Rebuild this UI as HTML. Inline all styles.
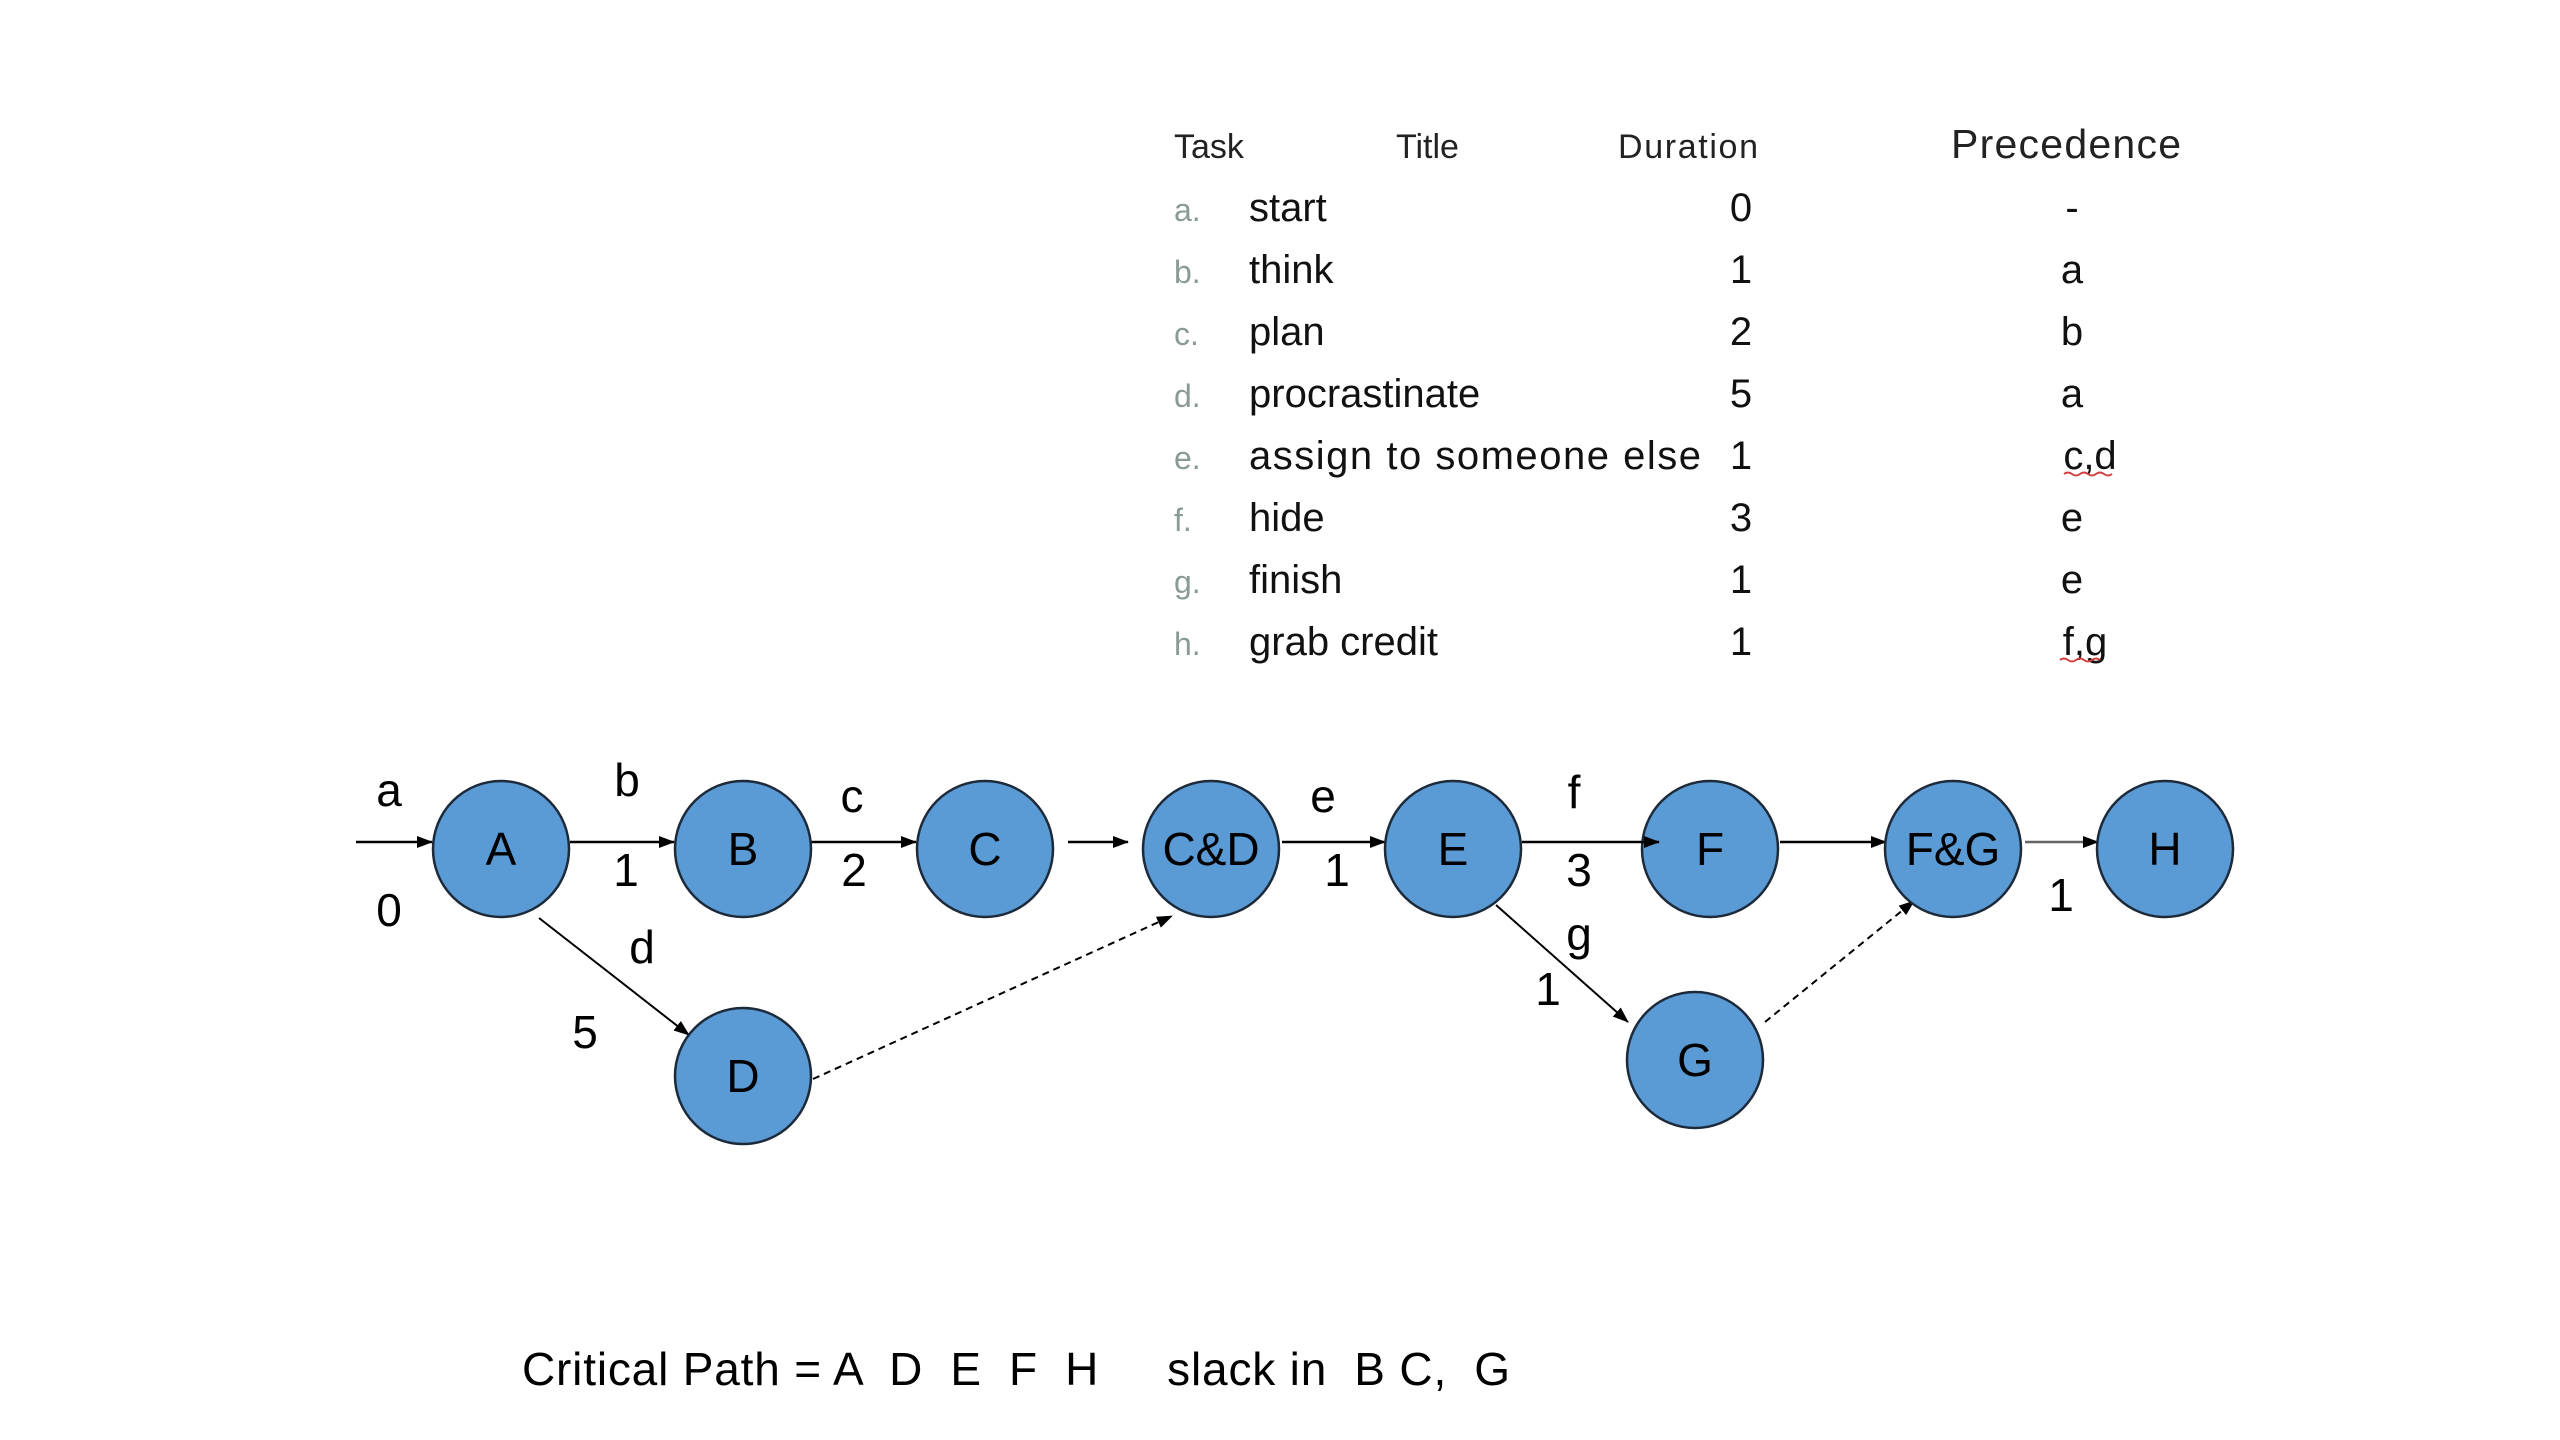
<!DOCTYPE html>
<html><head><meta charset="utf-8"><style>
html,body{margin:0;padding:0;background:#fff;}
svg{display:block;font-family:"Liberation Sans",Arial,sans-serif;}
</style></head><body>
<svg width="2560" height="1440" viewBox="0 0 2560 1440" xmlns="http://www.w3.org/2000/svg">
<defs>
<marker id="ar2" markerWidth="16" markerHeight="12" refX="15" refY="6" orient="auto" markerUnits="userSpaceOnUse" viewBox="0 0 16 12">
<path d="M0,0 L16,6 L0,12 z" fill="#000"/>
</marker>
</defs>
<rect width="2560" height="1440" fill="#fff"/>

<!-- table -->
<g fill="#222">
<text x="1174" y="158" font-size="34">Task</text>
<text x="1396" y="158" font-size="34">Title</text>
<text x="1618" y="158" font-size="34" textLength="140">Duration</text>
<text x="1951" y="158" font-size="41" textLength="230">Precedence</text>
</g>
<g font-size="40">
<g fill="#8a9a94" font-size="32">
<text x="1174" y="221">a.</text>
<text x="1174" y="283">b.</text>
<text x="1174" y="345">c.</text>
<text x="1174" y="407">d.</text>
<text x="1174" y="469">e.</text>
<text x="1174" y="531">f.</text>
<text x="1174" y="593">g.</text>
<text x="1174" y="655">h.</text>
</g>
<g fill="#111">
<text x="1249" y="221">start</text>
<text x="1249" y="283">think</text>
<text x="1249" y="345">plan</text>
<text x="1249" y="407">procrastinate</text>
<text x="1249" y="469" textLength="452">assign to someone else</text>
<text x="1249" y="531">hide</text>
<text x="1249" y="593">finish</text>
<text x="1249" y="655">grab credit</text>
</g>
<g fill="#111" text-anchor="middle">
<text x="1741" y="221">0</text>
<text x="1741" y="283">1</text>
<text x="1741" y="345">2</text>
<text x="1741" y="407">5</text>
<text x="1741" y="469">1</text>
<text x="1741" y="531">3</text>
<text x="1741" y="593">1</text>
<text x="1741" y="655">1</text>
<text x="2072" y="221">-</text>
<text x="2072" y="283">a</text>
<text x="2072" y="345">b</text>
<text x="2072" y="407">a</text>
<text x="2090" y="469">c,d</text>
<text x="2072" y="531">e</text>
<text x="2072" y="593">e</text>
<text x="2085" y="655">f,g</text>
</g>
<path d="M2064,474 q4,-3 8,0 t8,0 t8,0 t8,0 t8,0 t8,0" stroke="#d04040" stroke-width="2" fill="none"/>
<path d="M2060,660 q4,-3 8,0 t8,0 t8,0 t8,0 t8,0" stroke="#d04040" stroke-width="2" fill="none"/>
</g>

<!-- edges -->
<g stroke="#000" stroke-width="2.5" fill="none">
<line x1="356" y1="842" x2="432" y2="842" marker-end="url(#ar2)"/>
<line x1="570" y1="842" x2="674" y2="842" marker-end="url(#ar2)"/>
<line x1="811" y1="842" x2="916" y2="842" marker-end="url(#ar2)"/>
<line x1="1068" y1="842" x2="1128" y2="842" marker-end="url(#ar2)"/>
<line x1="1282" y1="842" x2="1385" y2="842" marker-end="url(#ar2)"/>
<line x1="1780" y1="842" x2="1886" y2="842" marker-end="url(#ar2)"/>
<line x1="2025" y1="842" x2="2098" y2="842" marker-end="url(#ar2)" stroke="#666"/>
<line x1="539" y1="918" x2="689" y2="1035" marker-end="url(#ar2)" stroke-width="2"/>
<line x1="1496" y1="905" x2="1628" y2="1022" marker-end="url(#ar2)" stroke-width="2"/>
<line x1="813" y1="1079" x2="1172" y2="916" marker-end="url(#ar2)" stroke-width="2" stroke-dasharray="7,5"/>
<line x1="1765" y1="1022" x2="1914" y2="901" marker-end="url(#ar2)" stroke-width="2" stroke-dasharray="7,5"/>
</g>

<!-- nodes -->
<g fill="#5b9bd5" stroke="#1c2a3a" stroke-width="2.5">
<circle cx="501" cy="849" r="68"/>
<circle cx="743" cy="849" r="68"/>
<circle cx="985" cy="849" r="68"/>
<circle cx="1211" cy="849" r="68"/>
<circle cx="1453" cy="849" r="68"/>
<circle cx="1710" cy="849" r="68"/>
<circle cx="1953" cy="849" r="68"/>
<circle cx="2165" cy="849" r="68"/>
<circle cx="743" cy="1076" r="68"/>
<circle cx="1695" cy="1060" r="68"/>
</g>
<!-- E->F arrow drawn on top of F -->
<line x1="1522" y1="842" x2="1659" y2="842" marker-end="url(#ar2)" stroke="#000" stroke-width="2.5"/>

<g font-size="46" fill="#000" text-anchor="middle">
<text x="501" y="865">A</text>
<text x="743" y="865">B</text>
<text x="985" y="865">C</text>
<text x="1211" y="865">C&amp;D</text>
<text x="1453" y="865">E</text>
<text x="1710" y="865">F</text>
<text x="1953" y="865">F&amp;G</text>
<text x="2165" y="865">H</text>
<text x="743" y="1092">D</text>
<text x="1695" y="1076">G</text>
</g>

<!-- edge labels -->
<g font-size="46" fill="#000" text-anchor="middle">
<text x="389" y="806">a</text>
<text x="389" y="926">0</text>
<text x="627" y="796">b</text>
<text x="626" y="886">1</text>
<text x="852" y="812">c</text>
<text x="854" y="886">2</text>
<text x="642" y="963">d</text>
<text x="585" y="1048">5</text>
<text x="1323" y="812">e</text>
<text x="1337" y="886">1</text>
<text x="1574" y="808">f</text>
<text x="1579" y="886">3</text>
<text x="1579" y="950">g</text>
<text x="1548" y="1005">1</text>
<text x="2061" y="911">1</text>
</g>

<text x="522" y="1385" font-size="46" fill="#000" xml:space="preserve" textLength="988">Critical Path = A  D  E  F  H     slack in  B C,  G</text>
</svg>
</body></html>
